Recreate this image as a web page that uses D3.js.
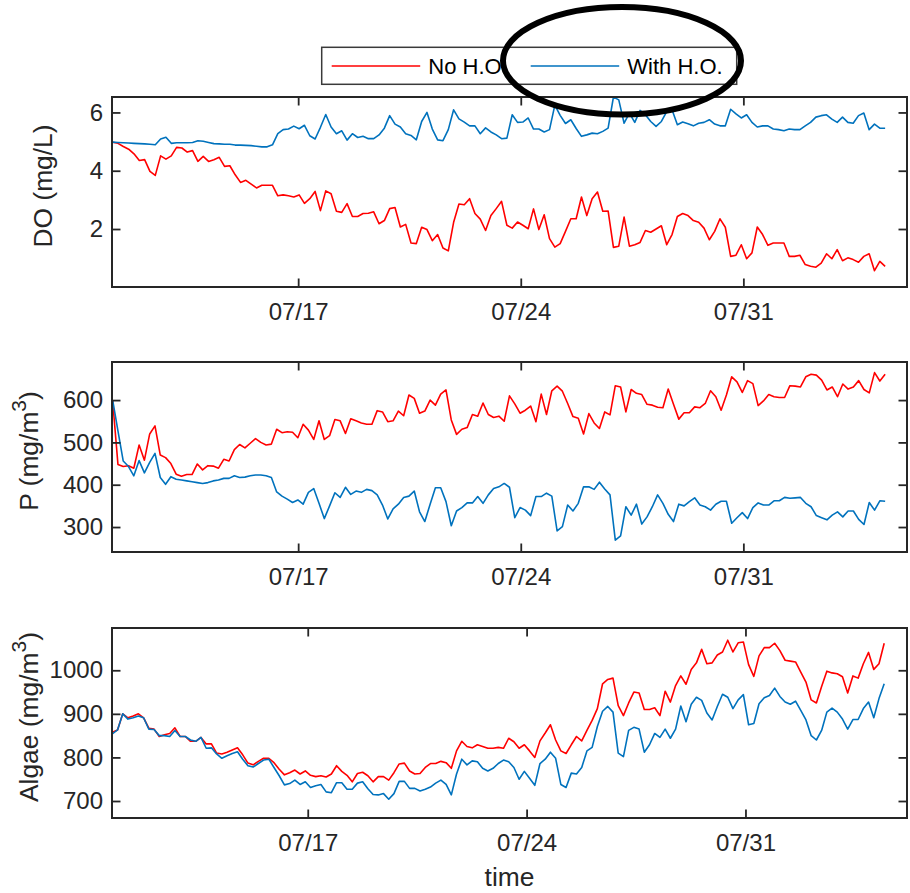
<!DOCTYPE html>
<html>
<head>
<meta charset="utf-8">
<script src="https://cdn.jsdelivr.net/npm/d3@7"></script>
<style>
  body { margin: 0; background: #fff; }
  svg { display: block; font-family: "Liberation Sans", Arial, Helvetica, sans-serif; }
</style>
</head>
<body>
<svg id="chart" width="910" height="893"></svg>
<script>
// Values, one list per series
const doNoHO = [
  4.98, 4.94, 4.83, 4.74, 4.58, 4.35, 4.38, 3.98, 3.84, 4.51,
  4.40, 4.51, 4.80, 4.78, 4.64, 4.69, 4.32, 4.49, 4.32, 4.38,
  4.46, 4.15, 4.17, 3.86, 3.60, 3.67, 3.54, 3.41, 3.50, 3.50,
  3.50, 3.14, 3.17, 3.14, 3.10, 3.17, 2.88, 3.04, 3.29, 2.63,
  3.31, 3.21, 2.61, 2.57, 2.87, 2.43, 2.43, 2.53, 2.54, 2.59,
  2.18, 2.29, 2.70, 2.74, 2.07, 2.16, 1.52, 1.50, 2.06, 1.98,
  1.60, 1.81, 1.35, 1.25, 2.23, 2.86, 2.83, 3.04, 2.53, 2.34,
  1.95, 2.46, 2.70, 2.95, 2.13, 2.03, 2.24, 2.13, 2.01, 2.69,
  1.98, 2.49, 1.67, 1.38, 1.50, 1.92, 2.35, 2.35, 3.10, 2.46,
  3.04, 3.27, 2.61, 2.62, 1.37, 1.41, 2.41, 1.41, 1.46, 1.54,
  1.95, 1.89, 2.00, 2.11, 1.46, 1.81, 2.43, 2.53, 2.46, 2.29,
  2.23, 2.03, 1.63, 1.92, 2.35, 2.06, 1.06, 1.10, 1.46, 0.98,
  1.18, 2.07, 1.81, 1.44, 1.52, 1.52, 1.52, 1.06, 1.06, 1.10,
  0.78, 0.72, 0.69, 0.83, 1.15, 0.98, 1.29, 0.91, 1.01, 0.95,
  0.86, 1.06, 1.15, 0.57, 0.89, 0.72
];
const doWithHO = [
  4.98, 4.97, 4.96, 4.95, 4.94, 4.93, 4.92, 4.91, 4.89, 5.09,
  5.15, 4.94, 4.96, 4.96, 4.96, 4.97, 5.03, 5.01, 4.97, 4.93,
  4.92, 4.91, 4.91, 4.88, 4.88, 4.87, 4.86, 4.84, 4.82, 4.82,
  4.89, 5.27, 5.41, 5.43, 5.53, 5.44, 5.56, 5.20, 5.09, 5.49,
  5.93, 5.50, 5.27, 5.37, 5.05, 5.27, 5.14, 5.18, 5.10, 5.10,
  5.23, 5.46, 5.89, 5.60, 5.50, 5.27, 5.21, 5.06, 5.69, 6.00,
  5.43, 5.06, 5.03, 5.41, 6.09, 5.78, 5.67, 5.54, 5.54, 5.27,
  5.47, 5.33, 5.23, 5.10, 5.12, 5.92, 5.66, 5.67, 5.81, 5.43,
  5.43, 5.33, 5.41, 6.25, 5.90, 5.62, 5.75, 5.45, 5.18, 5.23,
  5.29, 5.27, 5.35, 5.46, 6.53, 6.43, 5.63, 5.98, 5.66, 6.07,
  5.92, 5.69, 5.52, 5.69, 6.03, 6.09, 5.58, 5.67, 5.61, 5.54,
  5.63, 5.66, 5.75, 5.60, 5.54, 5.54, 6.11, 5.95, 5.81, 5.92,
  5.66, 5.50, 5.54, 5.54, 5.43, 5.41, 5.37, 5.43, 5.41, 5.41,
  5.54, 5.66, 5.84, 5.89, 5.92, 5.77, 5.66, 5.84, 5.66, 5.63,
  5.89, 5.98, 5.41, 5.60, 5.46, 5.46
];
const pNoHO = [
  598, 448, 443, 445, 439, 494, 458, 520, 539, 470,
  464, 450, 425, 420, 424, 424, 449, 435, 445, 444,
  439, 460, 456, 483, 495, 487, 498, 509, 500, 494,
  496, 531, 523, 525, 524, 511, 543, 529, 507, 551,
  507, 516, 554, 551, 521, 556, 551, 546, 543, 543,
  575, 572, 549, 551, 574, 563, 612, 604, 569, 574,
  600, 588, 614, 624, 553, 519, 531, 535, 566, 562,
  593, 566, 559, 562, 550, 610, 591, 569, 576, 586,
  549, 614, 566, 622, 633, 621, 592, 561, 557, 520,
  568, 546, 533, 572, 565, 634, 631, 572, 625,
  616, 613, 590, 588, 583, 582, 626, 590, 555, 570,
  570, 584, 582, 592, 622, 608, 576, 612, 655, 643,
  618, 646, 639, 587, 598, 613, 608, 606, 606, 634,
  633, 631, 655, 661, 659, 647, 624, 631, 608, 638,
  626, 631, 646, 625, 617, 665, 645, 661
];
const pWithHO = [
  600, 527, 456, 443, 421, 457, 428, 453, 474, 417,
  401, 419, 413, 411, 409, 407, 405, 403, 405, 409,
  411, 415, 415, 421, 417, 418, 421, 423, 423, 421,
  417, 383, 373, 366, 358, 364, 354, 382, 391, 356,
  320, 350, 381, 370, 394, 377, 385, 382, 389, 386,
  376, 352, 319, 343, 354, 370, 373, 385, 336, 313,
  354, 393, 393, 360, 303, 338, 346, 357, 357, 372,
  356, 376, 391, 395, 403, 394, 322, 346, 340, 327,
  372, 372, 380, 373, 291, 301, 352, 338, 356, 395,
  395, 389, 406, 390, 376, 269, 279, 348, 328,
  354, 307, 324, 348, 376, 356, 330, 313, 354, 350,
  360, 369, 352, 348, 340, 354, 361, 361, 309, 322,
  334, 320, 346, 357, 352, 352, 362, 362, 370, 368,
  369, 370, 356, 348, 327, 322, 317, 328, 336, 324,
  338, 338, 318, 306, 358, 340, 362, 361
];
const algaeNoHO = [
  858, 863, 900, 891, 895, 900, 891, 867, 865, 848,
  852, 855, 868, 848, 848, 837, 837, 846, 831, 831,
  810, 808, 812, 817, 822, 806, 787, 783, 791, 798,
  798, 788, 773, 760, 765, 771, 762, 769, 759, 756,
  758, 755, 762, 781, 768, 759, 744, 763, 766, 758,
  744, 756, 756, 748, 765, 785, 787, 769, 762, 763,
  777, 786, 786, 791, 788, 775, 815, 837, 825, 822,
  829, 825, 821, 821, 823, 821, 844, 836, 821, 829,
  815, 800, 838, 856, 875, 840, 815, 809, 829, 848,
  838, 862, 885, 912, 969, 979, 982, 919, 896, 925,
  950, 948, 910, 910, 914, 896, 952, 927, 965, 987,
  968, 1002, 1017, 1048, 1015, 1017, 1035, 1042, 1069, 1042,
  1063, 1065, 1013, 986, 1033, 1052, 1052, 1062, 1045, 1023,
  1021, 1019, 996, 973, 932, 925, 963, 998, 994, 992,
  985, 948, 987, 982, 1015, 1041, 1002, 1015, 1062
];
const algaeWithHO = [
  854, 863, 900, 888, 891, 895, 891, 865, 864, 850,
  850, 848, 862, 848, 848, 840, 837, 846, 821, 822,
  808, 798, 804, 809, 813, 796, 781, 778, 786, 794,
  796, 777, 758, 737, 740, 748, 738, 744, 731, 735,
  738, 721, 719, 742, 742, 727, 727, 741, 744, 728,
  715, 714, 717, 704, 717, 745, 745, 729, 729, 723,
  727, 732, 741, 748, 738, 714, 762, 796, 783, 792,
  790, 775, 769, 775, 786, 794, 790, 777, 750, 768,
  752, 736, 786, 796, 812, 798, 738, 731, 764, 762,
  777, 815, 823, 871, 906, 917, 904, 810, 802, 862,
  869, 865, 812, 829, 855, 846, 865, 844, 865, 918,
  882, 922, 938, 931, 902, 886, 917, 945, 938, 912,
  932, 944, 875, 878, 923, 937, 942, 959, 940, 927,
  922, 929, 908, 886, 850, 840, 862, 904, 913, 904,
  888, 865, 887, 887, 912, 927, 891, 935, 969
];

const seriesNames = ["No H.O.", "With H.O."];
const seriesColors = ["#ff0000", "#0072bd"];
const xTickDates = [new Date(2019, 6, 17), new Date(2019, 6, 24), new Date(2019, 6, 31)];
const doTicks = [2, 4, 6];
const pTicks = [300, 400, 500, 600];
const algaeTicks = [700, 800, 900, 1000];

// sampling period and axis limits of each subplot
const spanTop = [new Date(2019, 6, 11, 4, 0), new Date(2019, 7, 4, 11, 0)];
const limTop = [new Date(2019, 6, 11, 3, 30), new Date(2019, 7, 5, 3, 30)];
const spanAlgae = [new Date(2019, 6, 10, 18, 0), new Date(2019, 7, 4, 10, 30)];
const limAlgae = [new Date(2019, 6, 10, 17, 45), new Date(2019, 7, 5, 4, 0)];

function sampleTimes(span, n) {
  const t0 = span[0].getTime(), t1 = span[1].getTime();
  return d3.range(n).map(i => new Date(t0 + i * (t1 - t0) / (n - 1)));
}

const svg = d3.select("#chart");
const axisColor = "#262626";
const left = 112, right = 907, panelH = 190;

const panels = [
  { title: "DO (mg/L)", sup: null, rows: [doNoHO, doWithHO], yDomain: [0.01, 6.53], ticks: doTicks,
    top: 97, span: spanTop, lim: limTop, labelX: 52 },
  { title: "P (mg/m", sup: "3", rows: [pNoHO, pWithHO], yDomain: [241, 690], ticks: pTicks,
    top: 362, span: spanTop, lim: limTop, labelX: 37.5 },
  { title: "Algae (mg/m", sup: "3", rows: [algaeNoHO, algaeWithHO], yDomain: [661, 1097], ticks: algaeTicks,
    top: 628, span: spanAlgae, lim: limAlgae, labelX: 37.5 }
];

panels.forEach((p, k) => {
  const bottom = p.top + panelH;
  const x = d3.scaleTime().domain(p.lim).range([left, right]);
  const y = d3.scaleLinear().domain(p.yDomain).range([bottom, p.top]);

  const g = svg.append("g").attr("class", "panel");
  g.append("rect")
    .attr("x", left).attr("y", p.top)
    .attr("width", right - left).attr("height", panelH)
    .attr("fill", "#fff");

  const clipId = "clip" + k;
  g.append("clipPath").attr("id", clipId)
    .append("rect")
    .attr("x", left).attr("y", p.top)
    .attr("width", right - left).attr("height", panelH);

  // lines
  p.rows.forEach((vals, s) => {
    const times = sampleTimes(p.span, vals.length);
    const line = d3.line()
      .x((d, i) => x(times[i]))
      .y(d => y(d));
    g.append("path")
      .datum(vals)
      .attr("clip-path", `url(#${clipId})`)
      .attr("fill", "none")
      .attr("stroke", seriesColors[s])
      .attr("stroke-width", 1.6)
      .attr("stroke-linejoin", "round")
      .attr("d", line);
  });

  // axes with inward ticks on all four sides
  const styleAxis = sel => {
    sel.attr("font-family", null).attr("font-size", 24);
    sel.select(".domain").remove();
    sel.selectAll(".tick line").attr("stroke", axisColor).attr("stroke-width", 1.8);
    sel.selectAll(".tick text").attr("fill", axisColor);
  };

  g.append("g")
    .attr("transform", `translate(${left},0)`)
    .call(d3.axisLeft(y).tickValues(p.ticks).tickSizeInner(-8.5).tickSizeOuter(0)
      .tickPadding(9).tickFormat(d => String(d)))
    .call(styleAxis);
  g.append("g")
    .attr("transform", `translate(${right},0)`)
    .call(d3.axisRight(y).tickValues(p.ticks).tickSizeInner(-8.5).tickSizeOuter(0).tickFormat(""))
    .call(styleAxis);
  g.append("g")
    .attr("transform", `translate(0,${bottom})`)
    .call(d3.axisBottom(x).tickValues(xTickDates).tickSizeInner(-8.5).tickSizeOuter(0)
      .tickPadding(16).tickFormat(d3.timeFormat("%m/%d")))
    .call(styleAxis);
  g.append("g")
    .attr("transform", `translate(0,${p.top})`)
    .call(d3.axisTop(x).tickValues(xTickDates).tickSizeInner(-8.5).tickSizeOuter(0).tickFormat(""))
    .call(styleAxis);

  g.append("rect")
    .attr("x", left).attr("y", p.top)
    .attr("width", right - left).attr("height", panelH)
    .attr("fill", "none")
    .attr("stroke", axisColor)
    .attr("stroke-width", 2);

  // y label
  const lab = g.append("text")
    .attr("transform", `translate(${p.labelX},${p.top + panelH / 2 - 6}) rotate(-90)`)
    .attr("text-anchor", "middle")
    .attr("font-size", 26.4)
    .attr("fill", axisColor);
  lab.append("tspan").text(p.title);
  if (p.sup) {
    lab.append("tspan").attr("font-size", 21).attr("dy", -12).text(p.sup);
    lab.append("tspan").attr("dy", 12).text(")");
  }
});

// x label
svg.append("text")
  .attr("x", (left + right) / 2)
  .attr("y", 886)
  .attr("text-anchor", "middle")
  .attr("font-size", 26.4)
  .attr("fill", axisColor)
  .text("time");

// legend
const legend = svg.append("g");
legend.append("rect")
  .attr("x", 321.7).attr("y", 47.3)
  .attr("width", 415).attr("height", 37)
  .attr("fill", "#fff")
  .attr("stroke", "#3a3a3a")
  .attr("stroke-width", 1.5);
const items = legend.selectAll("g.item")
  .data(seriesNames)
  .join("g")
  .attr("class", "item")
  .attr("transform", (d, i) => `translate(${331.7 + i * 199},66)`);
items.append("line")
  .attr("x1", 0).attr("x2", 88.5)
  .attr("stroke", (d, i) => seriesColors[i])
  .attr("stroke-width", 1.6);
items.append("text")
  .attr("x", 96.6).attr("y", 8)
  .attr("font-size", 22)
  .attr("fill", "#000")
  .text(d => d);

// hand-drawn highlight ellipse over the second legend entry
svg.append("ellipse")
  .attr("cx", 622).attr("cy", 60.7)
  .attr("rx", 119).attr("ry", 53.7)
  .attr("fill", "none")
  .attr("stroke", "#000")
  .attr("stroke-width", 6);
</script>
</body>
</html>
